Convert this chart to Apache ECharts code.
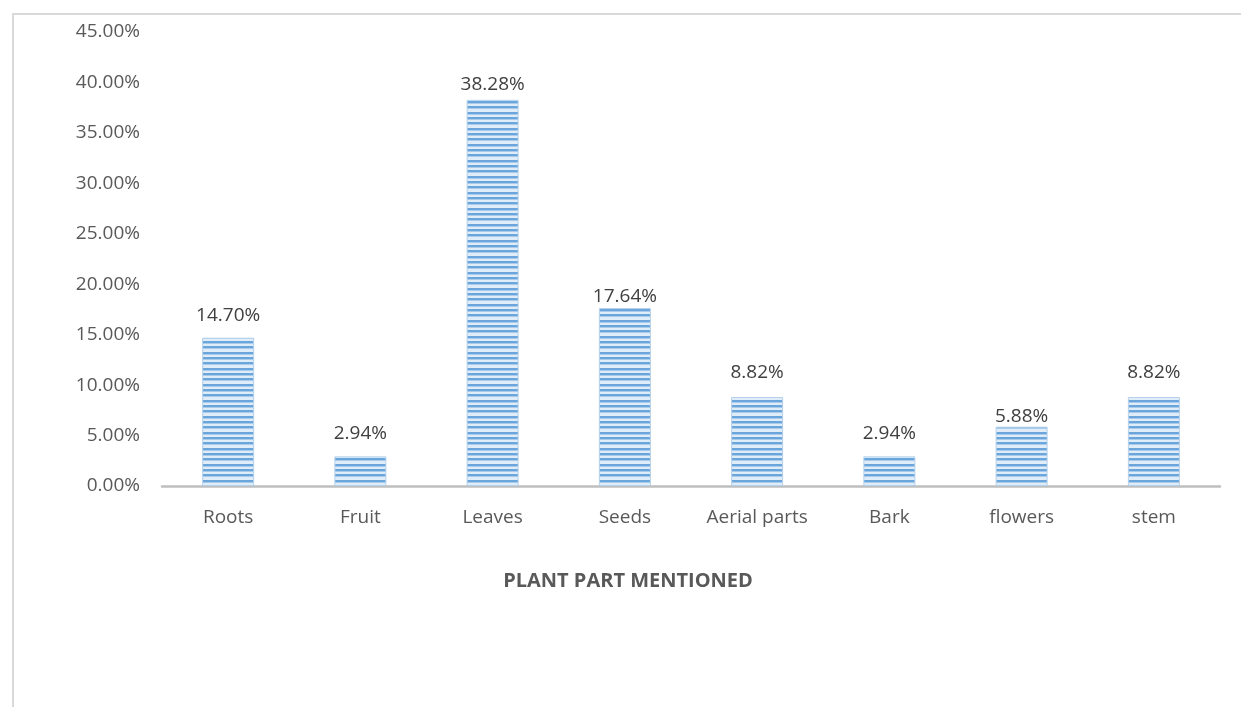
<!DOCTYPE html>
<html>
<head>
<meta charset="utf-8">
<script src="https://cdn.jsdelivr.net/npm/echarts@6/dist/echarts.min.js"></script>
<style>
  html, body { margin: 0; padding: 0; background: #ffffff; }
  #chart { width: 1241px; height: 707px; }
</style>
</head>
<body>
<div id="chart"></div>
<script>
// Plant parts and the share of mentions for each (percent)
const categories = ['Roots', 'Fruit', 'Leaves', 'Seeds', 'Aerial parts', 'Bark', 'flowers', 'stem'];
const shares = [14.70, 2.94, 38.28, 17.64, 8.82, 2.94, 5.88, 8.82];
const axisTitle = 'PLANT PART MENTIONED';
// Gap (px) between each bar top and its value label
const labelGaps = [13, 13, 6, 2, 15, 13, 1, 15];

// Horizontal striped fill for the bars
function stripePattern() {
  const c = document.createElement('canvas');
  c.width = 4; c.height = 16;
  const g = c.getContext('2d');
  const rows = [5, 5, 6];
  let y = 0;
  rows.forEach(h => {
    g.fillStyle = '#6aa5db'; g.fillRect(0, y, 4, 2);
    g.fillStyle = '#a9cbeb'; g.fillRect(0, y + 2, 4, 1);
    g.fillStyle = '#e0edf8'; g.fillRect(0, y + 3, 4, h - 3);
    y += h;
  });
  return c;
}

const chart = echarts.init(document.getElementById('chart'), null, { renderer: 'canvas' });
const font = '"Open Sans", "Liberation Sans", sans-serif';

chart.setOption({
  animation: false,
  backgroundColor: '#ffffff',
  grid: { left: 162, right: 21, top: 32, bottom: 221 },
  xAxis: {
    type: 'category',
    data: categories,
    axisLine: { lineStyle: { color: '#bfbfbf', width: 2.5 } },
    axisTick: { show: false },
    axisLabel: { color: '#595959', fontSize: 19, fontFamily: font, margin: 22, interval: 0 }
  },
  yAxis: {
    type: 'value',
    min: 0, max: 45, interval: 5,
    axisLine: { show: false },
    axisTick: { show: false },
    splitLine: { show: false },
    axisLabel: {
      color: '#595959', fontSize: 19, fontFamily: font, margin: 22,
      formatter: v => v.toFixed(2) + '%'
    }
  },
  series: [{
    type: 'bar',
    data: shares.map((v, i) => ({ value: v, label: { distance: labelGaps[i] } })),
    barWidth: 52,
    itemStyle: {
      color: { image: stripePattern(), repeat: 'repeat' },
      borderColor: '#b4d1ec',
      borderWidth: 1
    },
    label: {
      show: true, position: 'top',
      color: '#404040', fontSize: 19, fontFamily: font,
      formatter: p => p.value.toFixed(2) + '%'
    }
  }],
  graphic: [
    {
      type: 'rect', silent: true,
      shape: { x: 13, y: 14, width: 1260, height: 720 },
      style: { fill: 'none', stroke: '#d9d9d9', lineWidth: 2 }
    },
    {
      type: 'text', silent: true,
      x: 628, y: 581,
      style: {
        text: axisTitle, fill: '#595959',
        font: 'bold 20px ' + font,
        align: 'center', verticalAlign: 'middle'
      }
    }
  ]
});
</script>
</body>
</html>
